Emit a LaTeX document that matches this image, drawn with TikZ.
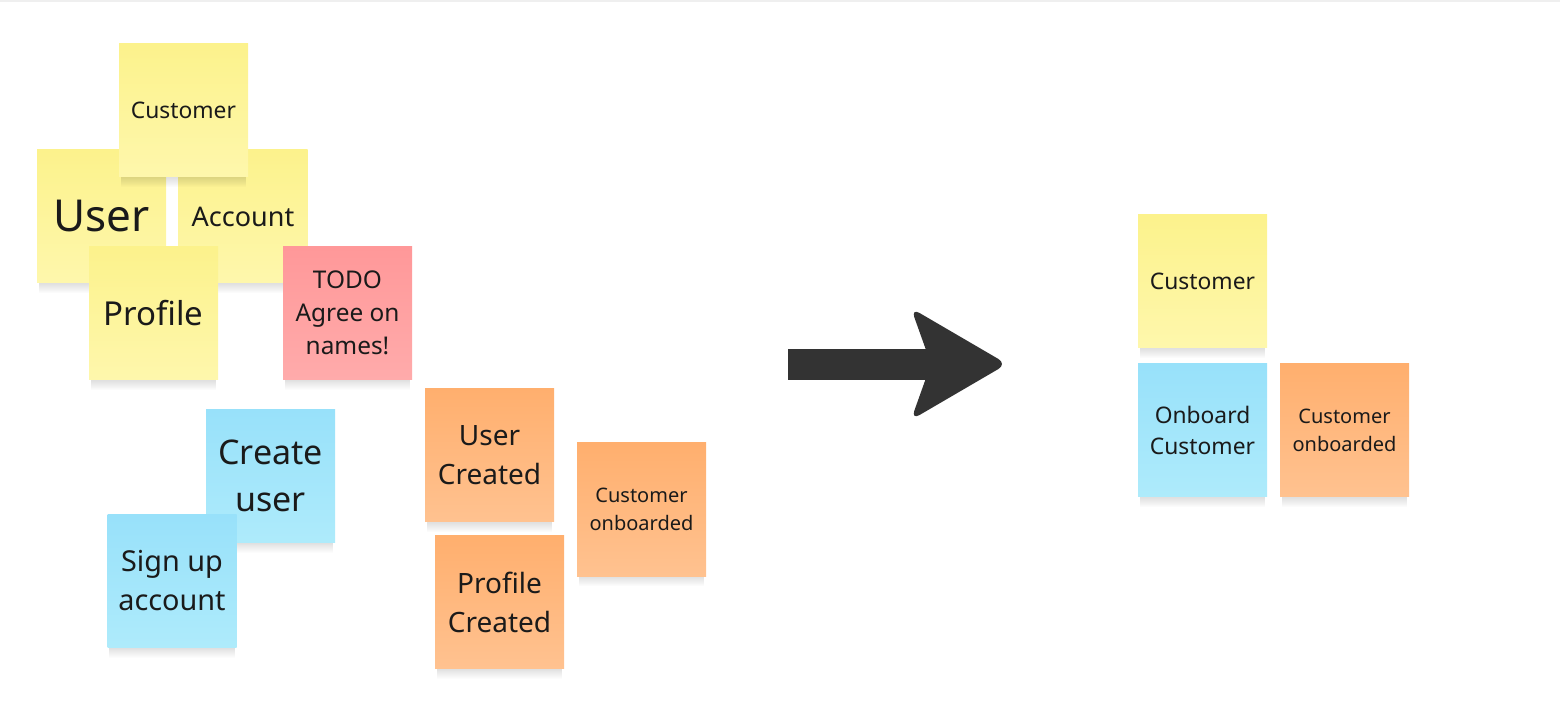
\documentclass[tikz,border=0pt]{standalone}
\usepackage{fontspec}
\setmainfont{Noto Sans}
\usepackage{tikz}
\usetikzlibrary{fadings}
\definecolor{yelTop}{HTML}{FCF28C}
\definecolor{yelBot}{HTML}{FEF7AC}
\definecolor{bluTop}{HTML}{98E1FA}
\definecolor{bluBot}{HTML}{AEEBFB}
\definecolor{orgTop}{HTML}{FFAF6E}
\definecolor{orgBot}{HTML}{FFC290}
\definecolor{redTop}{HTML}{FF9899}
\definecolor{redBot}{HTML}{FFABAB}
\definecolor{ink}{HTML}{1A1A1A}
\definecolor{arrowgray}{HTML}{333333}
\definecolor{edgegray}{HTML}{EFEFEF}
\newcommand{\notesize}[2]{\fontsize{#1}{#2}\selectfont}
\tikzset{
    notedrop/.style={fill=black, fill opacity=0.12, path fading=south},
    sticky/.style={rectangle, minimum width=64.5pt, minimum height=66.5pt,
        inner sep=2pt, align=center, text=ink,
        append after command={\pgfextra{\fill[notedrop]
            ([xshift=1pt]\tikzlastnode.south west) rectangle
            ([xshift=-1pt,yshift=-5pt]\tikzlastnode.south east);}}},
    yellow/.style={sticky, top color=yelTop, bottom color=yelBot},
    blue/.style={sticky, top color=bluTop, bottom color=bluBot},
    orange/.style={sticky, top color=orgTop, bottom color=orgBot},
    red/.style={sticky, top color=redTop, bottom color=redBot},
    bigarrow/.style={fill=arrowgray, rounded corners=5pt}
}
\begin{document}
\begin{tikzpicture}[x=0.5pt, y=-0.5pt]
    \useasboundingbox (0,0) rectangle (1560,727);
    \fill[edgegray] (0,0) rectangle (1560,2);

    % first draft of the model
    \node[yellow, font=\notesize{22}{30}] (user) at (101.5,216.5) {User};
    \node[yellow, font=\notesize{13.5}{18.4}] (account) at (243,216.5) {Account};
    \node[yellow, font=\notesize{11.4}{15.5}] (customer) at (183.5,110.5) {Customer};
    \node[yellow, font=\notesize{16.5}{22.4}] (profile) at (153.5,313.5) {Profile};
    \node[red, font=\notesize{12.2}{16.6}] (todo) at (347.5,313) {TODO\\Agree on\\names!};
    \node[blue, font=\notesize{17}{23.2}] (createuser) at (270.5,476) {Create\\user};
    \node[blue, font=\notesize{14.4}{19.5}] (signup) at (172,581) {Sign up\\account};
    \node[orange, font=\notesize{14}{19.5}] (usercreated) at (489.5,455.5) {User\\Created};
    \node[orange, font=\notesize{10}{13.8}] (onboarded) at (641.5,509.5) {Customer\\onboarded};
    \node[orange, font=\notesize{14}{19.5}] (profilecreated) at (499.5,602) {Profile\\Created};

    % the arrow
    \fill[arrowgray] (788,349) rectangle (960,380);
    \fill[bigarrow] (931,364) -- (911,308) -- (1007,364) -- (911,420) -- cycle;

    % agreed model
    \node[yellow, font=\notesize{11.4}{15.5}] (rcustomer) at (1202.5,281.5) {Customer};
    \node[blue, font=\notesize{11.4}{15.5}] (ronboard) at (1202.5,430.5) {Onboard\\Customer};
    \node[orange, font=\notesize{10}{13.8}] (ronboarded) at (1344.5,430.5) {Customer\\onboarded};
\end{tikzpicture}
\end{document}
